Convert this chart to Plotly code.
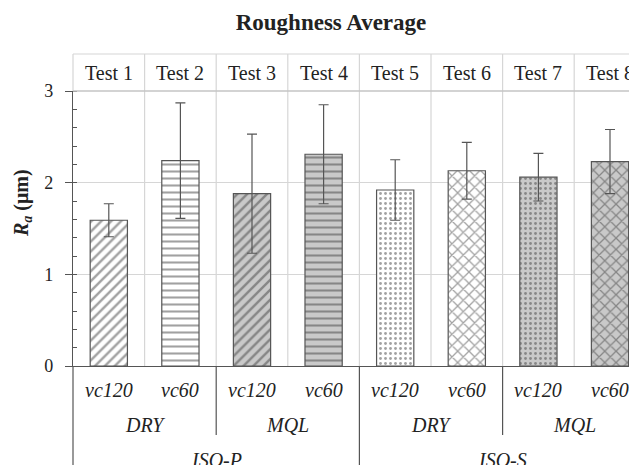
import plotly.graph_objects as go

tests = ["Test 1", "Test 2", "Test 3", "Test 4", "Test 5", "Test 6", "Test 7", "Test 8"]
speeds = ["vc120", "vc60", "vc120", "vc60", "vc120", "vc60", "vc120", "vc60"]
lubrication = ["DRY", "MQL", "DRY", "MQL"]
materials = ["ISO-P", "ISO-S"]
ra_mean = [1.59, 2.24, 1.88, 2.31, 1.92, 2.13, 2.06, 2.23]
ra_err = [0.18, 0.63, 0.65, 0.54, 0.33, 0.31, 0.26, 0.35]

patterns = ["/", "-", "/", "-", ".", "x", ".", "x"]
pattern_sizes = [7, 7, 7, 7, 5, 8, 5, 8]
pattern_solidity = [0.35, 0.3, 0.35, 0.3, 0.25, 0.3, 0.25, 0.3]
bgcolors = ["white", "white", "#c9c9c9", "#c9c9c9", "white", "white", "#c9c9c9", "#c9c9c9"]

# the page adds an 8px body margin, so the figure is drawn 8px right/down
OFF = 8
W, H = 637 - OFF, 465 - OFF
ml = 73 - OFF
mt = 91 - OFF
mb = H - (366 - OFF)
mr = 0
cat_px = 71.6
plot_w = W - ml - mr
plot_h = H - mt - mb
x0 = -0.5
x1 = x0 + plot_w / cat_px


def px_x(v):
    return (v - x0) / (x1 - x0)


def py(ref_y):
    return (366 - ref_y) / plot_h


def pxp(ref_x):
    return (ref_x - 73) / plot_w


font = "Liberation Serif, Times New Roman, Tinos, DejaVu Serif, serif"
tc = "#222222"
xs = list(range(len(tests)))

fig = go.Figure()
fig.add_trace(go.Bar(
    x=xs, y=ra_mean, width=0.52,
    error_y=dict(type="data", array=ra_err, color="#555555", thickness=1.2, width=5),
    marker=dict(
        color=bgcolors,
        line=dict(color="#555555", width=1.2),
        pattern=dict(shape=patterns, bgcolor=bgcolors, fgcolor="#2a2a2a",
                     size=pattern_sizes, solidity=pattern_solidity),
    ),
    showlegend=False,
))

shapes = []
grid = "#d6d6d6"
top = py(54)
for i in range(len(tests) + 1):
    b = i - 0.5
    if b <= x0 or b >= x1:
        continue
    shapes.append(dict(type="line", xref="paper", yref="paper", x0=px_x(b), x1=px_x(b),
                       y0=0, y1=top, line=dict(color=grid, width=1.2), layer="below"))
shapes.append(dict(type="line", xref="paper", yref="paper", x0=0, x1=0, y0=1, y1=top,
                   line=dict(color=grid, width=1.2)))
shapes.append(dict(type="line", xref="paper", yref="paper", x0=0, x1=1, y0=top, y1=top,
                   line=dict(color=grid, width=1.2)))
shapes.append(dict(type="line", xref="paper", yref="paper", x0=0, x1=1, y0=1, y1=1,
                   line=dict(color="#c4c4c4", width=1.6)))

short_bot = py(435)
long_bot = py(470)
for b in [1.5, 5.5]:
    shapes.append(dict(type="line", xref="paper", yref="paper", x0=px_x(b), x1=px_x(b),
                       y0=0, y1=short_bot, line=dict(color="#555555", width=1.2)))
for b in [-0.5, 3.5]:
    shapes.append(dict(type="line", xref="paper", yref="paper", x0=px_x(b), x1=px_x(b),
                       y0=0, y1=long_bot, line=dict(color="#555555", width=1.2)))

annotations = []
lab = dict(family=font, size=20, color=tc)
for i, t in enumerate(tests):
    annotations.append(dict(x=i, xref="x", y=py(73), yref="paper", text=t, showarrow=False,
                            font=lab, yanchor="middle"))
for i, s in enumerate(speeds):
    annotations.append(dict(x=i, xref="x", y=py(390), yref="paper", text="<i>" + s + "</i>",
                            showarrow=False, font=lab, yanchor="middle"))
for j, l in enumerate(lubrication):
    annotations.append(dict(x=2 * j + 0.5, xref="x", y=py(425), yref="paper", text="<i>" + l + "</i>",
                            showarrow=False, font=lab, yanchor="middle"))
for k, m in enumerate(materials):
    annotations.append(dict(x=4 * k + 1.5, xref="x", y=py(460), yref="paper", text="<i>" + m + "</i>",
                            showarrow=False, font=lab, yanchor="middle"))
annotations.append(dict(x=pxp(22), xref="paper", y=py(203), yref="paper",
                        text="<b><i>R</i><sub><i>a</i></sub> (μm)</b>", textangle=-90,
                        showarrow=False, xanchor="center", yanchor="middle",
                        font=dict(family=font, size=20, color=tc)))

fig.update_layout(
    width=W, height=H,
    font=dict(family=font, color=tc),
    margin=dict(l=ml, r=mr, t=mt, b=mb, pad=0, autoexpand=False),
    plot_bgcolor="white", paper_bgcolor="white",
    title=dict(text="<b>Roughness Average</b>", x=(331 - OFF) / W, xanchor="center",
               y=1 - (22 - OFF) / H, yanchor="middle", font=dict(family=font, size=23, color=tc)),
    xaxis=dict(range=[x0, x1], showticklabels=False, showgrid=False, zeroline=False,
               showline=True, linecolor="#555555", linewidth=1.2, ticks="", automargin=False),
    yaxis=dict(range=[0, 3], tickvals=[0, 1, 2, 3], showgrid=True, gridcolor=grid, gridwidth=1.2,
               zeroline=False, showline=True, linecolor="#555555", linewidth=1.2,
               ticks="outside", ticklen=7, tickcolor="#555555", tickwidth=1.2,
               ticklabelstandoff=8, automargin=False,
               minor=dict(dtick=0.2, ticks="inside", ticklen=4, tickcolor="#555555", showgrid=False),
               tickfont=dict(family=font, size=18, color=tc)),
    shapes=shapes, annotations=annotations,
)

fig.write_html("out.html")
